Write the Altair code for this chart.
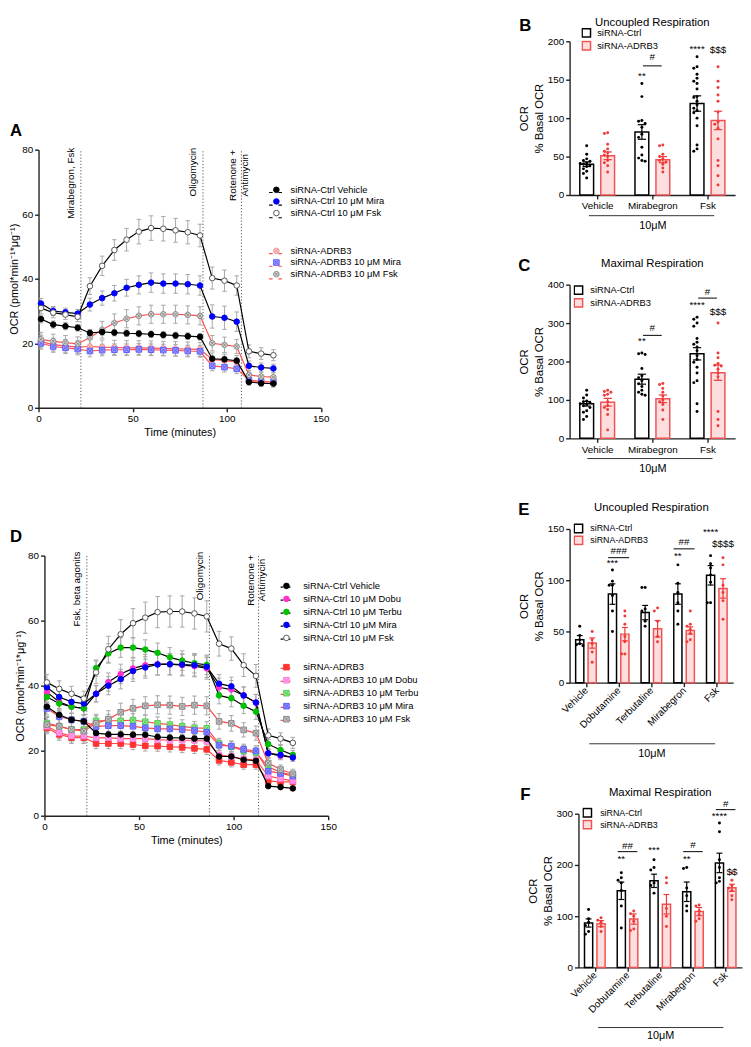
import altair as alt
import pandas as pd

FONT = "Liberation Sans"
GREY = "#a8a8a8"
SQX = "M-1,-1H1V1H-1Z M-0.75,-0.75L0.75,0.75 M0.75,-0.75L-0.75,0.75"
CIRX = "M-1,0A1,1 0 1,1 1,0A1,1 0 1,1 -1,0Z M-0.7,-0.7L0.7,0.7 M0.7,-0.7L-0.7,0.7"

# ---------------- Panel A ----------------
A_time = [1.3, 7.8, 14.3, 20.8, 27.3, 33.8, 40.3, 46.8, 53.3, 59.8,
          66.3, 72.8, 79.3, 85.8, 92.3, 98.8, 105.3, 111.8, 118.3, 124.8]
A_names = ["siRNA-Ctrl Vehicle", "siRNA-Ctrl 10 μM Mira", "siRNA-Ctrl 10 μM Fsk",
           "siRNA-ADRB3", "siRNA-ADRB3 10 μM Mira", "siRNA-ADRB3 10 μM Fsk"]
A_groups = ["siRNA-Ctrl", "siRNA-Ctrl", "siRNA-Ctrl", "siRNA-ADRB3", "siRNA-ADRB3", "siRNA-ADRB3"]
A_ctrl_vehicle = [27.5, 25.8, 25.3, 24.8, 23.2, 23.5, 23.3, 23.1, 23.0, 22.8, 22.6, 22.4, 22.2, 22.0, 15.2, 15.0, 14.6, 8.0, 7.6, 7.5]
A_ctrl_mira = [32.3, 30.0, 29.6, 29.2, 32.0, 34.0, 35.5, 37.2, 38.1, 38.8, 38.5, 38.5, 38.3, 37.9, 28.3, 27.9, 26.7, 13.0, 12.5, 12.2]
A_ctrl_fsk = [30.9, 29.5, 28.9, 28.2, 37.7, 44.0, 48.9, 52.1, 54.6, 55.7, 55.5, 55.0, 54.4, 53.4, 40.2, 39.4, 37.9, 17.5, 16.8, 16.3]
A_adrb3_vehicle = [20.5, 19.6, 19.2, 18.8, 19.0, 18.8, 18.7, 18.6, 18.6, 18.5, 18.4, 18.3, 18.2, 18.1, 15.0, 14.6, 14.2, 8.2, 7.8, 7.6]
A_adrb3_mira = [20.0, 19.0, 18.6, 18.2, 17.6, 17.9, 18.0, 18.0, 18.1, 18.0, 17.9, 17.8, 17.6, 17.5, 13.0, 12.6, 12.1, 8.6, 8.2, 8.0]
A_adrb3_fsk = [21.2, 20.6, 20.2, 19.8, 21.8, 24.2, 26.3, 27.6, 28.5, 29.0, 29.0, 29.0, 28.8, 28.5, 20.0, 19.5, 19.0, 10.2, 9.7, 9.5]
A_sem_ctrl_vehicle = [1.2, 1.1, 1.1, 1.0, 1.0, 1.0, 1.0, 1.0, 1.0, 1.0, 1.0, 1.0, 1.0, 1.0, 0.9, 0.9, 0.9, 0.6, 0.6, 0.6]
A_sem_ctrl_mira = [1.6, 1.4, 1.3, 1.3, 2.0, 2.2, 2.4, 2.6, 2.8, 3.0, 3.0, 3.0, 3.0, 3.0, 3.6, 3.6, 3.0, 1.5, 1.4, 1.3]
A_sem_ctrl_fsk = [1.8, 1.6, 1.5, 1.5, 2.6, 3.0, 3.2, 3.5, 3.8, 3.8, 3.8, 3.7, 3.6, 3.5, 3.4, 3.3, 3.0, 2.0, 1.8, 1.7]
A_sem_adrb3_vehicle = [2.0, 2.0, 2.0, 2.0, 2.2, 2.2, 2.2, 2.2, 2.2, 2.2, 2.2, 2.2, 2.2, 2.2, 2.0, 2.0, 2.0, 1.2, 1.2, 1.2]
A_sem_adrb3_mira = [1.8, 1.8, 1.8, 1.8, 1.8, 1.8, 1.8, 1.8, 1.8, 1.8, 1.8, 1.8, 1.8, 1.8, 1.5, 1.5, 1.5, 1.0, 1.0, 1.0]
A_sem_adrb3_fsk = [2.2, 2.2, 2.2, 2.2, 2.4, 2.6, 2.8, 2.8, 2.8, 2.8, 2.8, 2.8, 2.8, 2.8, 2.4, 2.4, 2.2, 1.4, 1.4, 1.4]
A_inj_time = [22.5, 87.4, 107.8]
A_inj_label = ["Mirabegron, Fsk", "Oligomycin", "Rotenone +\nAntimycin"]

# ---------------- Panel D ----------------
D_time = [1.3, 7.8, 14.3, 20.8, 27.3, 33.8, 40.3, 46.8, 53.3, 59.8, 66.3,
          72.8, 79.3, 85.8, 92.3, 98.8, 105.3, 111.8, 118.3, 124.8, 131.3]
D_names = ["siRNA-Ctrl Vehicle", "siRNA-Ctrl 10 μM Dobu", "siRNA-Ctrl 10 μM Terbu",
           "siRNA-Ctrl 10 μM Mira", "siRNA-Ctrl 10 μM Fsk",
           "siRNA-ADRB3", "siRNA-ADRB3 10 μM Dobu", "siRNA-ADRB3 10 μM Terbu",
           "siRNA-ADRB3 10 μM Mira", "siRNA-ADRB3 10 μM Fsk"]
D_groups = ["siRNA-Ctrl"] * 5 + ["siRNA-ADRB3"] * 5
D_ctrl_vehicle = [33.5, 31.0, 29.5, 29.0, 25.4, 25.0, 25.0, 24.9, 24.9, 24.2, 24.0, 23.9, 23.7, 23.7, 18.2, 18.2, 17.2, 16.9, 9.1, 8.8, 8.4]
D_ctrl_dobu = [38.0, 35.0, 33.5, 33.0, 37.5, 41.1, 43.6, 45.3, 46.3, 46.6, 46.6, 46.3, 46.0, 45.3, 39.5, 38.8, 37.0, 34.8, 19.2, 18.4, 18.0]
D_ctrl_terbu = [36.5, 34.5, 33.5, 33.0, 45.4, 49.9, 51.7, 51.7, 51.1, 50.1, 48.7, 47.7, 46.9, 46.4, 37.0, 36.1, 33.8, 32.0, 22.0, 20.2, 18.7]
D_ctrl_mira = [39.5, 36.5, 35.0, 34.5, 37.5, 40.0, 42.0, 44.5, 45.6, 46.5, 46.6, 46.5, 46.3, 45.8, 40.6, 39.8, 37.0, 34.8, 19.2, 18.7, 17.9]
D_ctrl_fsk = [41.0, 39.0, 37.5, 36.0, 44.1, 51.2, 55.8, 59.2, 60.9, 62.6, 62.8, 62.8, 62.2, 61.3, 52.9, 51.4, 46.3, 43.0, 24.7, 23.7, 22.4]
D_adrb3_vehicle = [27.0, 25.0, 24.0, 24.0, 22.2, 22.2, 22.2, 21.9, 21.5, 21.4, 21.2, 21.0, 20.7, 20.4, 17.0, 16.4, 15.7, 15.7, 10.7, 10.4, 10.4]
D_adrb3_dobu = [27.5, 25.5, 24.5, 24.5, 23.9, 24.0, 23.7, 23.7, 23.7, 23.4, 23.2, 23.2, 23.2, 22.9, 18.7, 18.2, 17.4, 17.2, 12.2, 11.4, 10.7]
D_adrb3_terbu = [28.5, 27.5, 26.5, 26.5, 29.2, 29.2, 29.2, 29.4, 28.9, 28.4, 28.0, 27.5, 27.0, 26.9, 22.2, 21.2, 20.0, 19.4, 15.0, 13.4, 12.4]
D_adrb3_mira = [33.0, 30.5, 29.5, 29.0, 27.4, 27.7, 27.7, 27.5, 27.0, 26.7, 26.7, 26.5, 26.2, 25.7, 21.7, 21.4, 20.4, 19.9, 13.7, 13.0, 12.2]
D_adrb3_fsk = [28.0, 27.5, 26.5, 26.0, 28.4, 29.7, 31.8, 33.0, 33.8, 34.1, 34.0, 33.6, 34.0, 33.8, 29.0, 28.4, 26.4, 25.4, 16.2, 14.2, 12.9]
D_sem_ctrl_vehicle = [1.2, 1.1, 1.0, 1.0, 1.0, 1.0, 1.0, 1.0, 1.0, 1.0, 1.0, 1.0, 1.0, 1.0, 0.9, 0.9, 0.9, 0.9, 0.5, 0.5, 0.5]
D_sem_ctrl_dobu = [2.0, 2.0, 2.0, 2.0, 2.5, 2.8, 3.0, 3.2, 3.3, 3.3, 3.3, 3.3, 3.3, 3.3, 2.8, 2.8, 2.6, 2.5, 1.2, 1.2, 1.2]
D_sem_ctrl_terbu = [2.0, 2.0, 2.0, 2.0, 2.5, 3.0, 3.0, 3.0, 3.0, 3.0, 3.0, 3.0, 3.0, 3.0, 2.6, 2.6, 2.4, 2.4, 1.4, 1.4, 1.4]
D_sem_ctrl_mira = [2.0, 2.0, 2.0, 2.0, 2.5, 2.8, 3.0, 3.2, 3.3, 3.3, 3.3, 3.3, 3.3, 3.3, 2.8, 2.8, 2.6, 2.5, 1.2, 1.2, 1.2]
D_sem_ctrl_fsk = [2.5, 2.5, 2.3, 2.3, 3.5, 4.0, 4.5, 4.5, 4.8, 4.8, 4.8, 4.8, 4.8, 4.8, 3.8, 3.6, 3.5, 3.5, 2.0, 1.8, 1.7]
D_sem_adrb3_vehicle = [1.8, 1.8, 1.8, 1.8, 1.6, 1.6, 1.6, 1.6, 1.6, 1.6, 1.6, 1.6, 1.6, 1.6, 1.4, 1.4, 1.4, 1.4, 0.9, 0.9, 0.9]
D_sem_adrb3_dobu = [1.8, 1.8, 1.8, 1.8, 1.6, 1.6, 1.6, 1.6, 1.6, 1.6, 1.6, 1.6, 1.6, 1.6, 1.4, 1.4, 1.4, 1.4, 0.9, 0.9, 0.9]
D_sem_adrb3_terbu = [2.0, 2.0, 2.0, 2.0, 2.0, 2.0, 2.0, 2.0, 2.0, 2.0, 2.0, 2.0, 2.0, 2.0, 1.6, 1.6, 1.6, 1.6, 1.0, 1.0, 1.0]
D_sem_adrb3_mira = [2.0, 2.0, 2.0, 2.0, 2.0, 2.0, 2.0, 2.0, 2.0, 2.0, 2.0, 2.0, 2.0, 2.0, 1.6, 1.6, 1.6, 1.6, 1.0, 1.0, 1.0]
D_sem_adrb3_fsk = [2.2, 2.2, 2.2, 2.2, 2.4, 2.6, 2.8, 2.8, 2.8, 2.8, 2.8, 2.8, 2.8, 2.8, 2.4, 2.4, 2.2, 2.2, 1.4, 1.4, 1.4]
D_inj_time = [22.4, 87.2, 113.2]
D_inj_label = ["Fsk, beta agonits", "Oligomycin", "Rotenone +\nAntimycin"]

TRACE_X_DOMAIN = [0, 150]
TRACE_X_TICKS = [0, 50, 100, 150]
TRACE_Y_DOMAIN = [0, 80]
TRACE_Y_TICKS = [0, 20, 40, 60, 80]

# ---------------- Bar panels ----------------
GROUPS = ["siRNA-Ctrl", "siRNA-ADRB3"]

B_cats = ["Vehicle", "Mirabegron", "Fsk"]
B_ctrl_mean = [40, 82, 119]
B_ctrl_sem = [3, 9.5, 10]
B_adrb3_mean = [51, 46, 97]
B_adrb3_sem = [5, 4, 12]
B_ctrl_dots = [[64, 53, 47, 45, 44, 42, 41, 40, 38, 37, 34, 31, 28, 22],
               [145, 128, 97, 96, 93, 88, 79, 75, 62, 52, 48, 45, 44],
               [180, 167, 165, 157, 152, 148, 145, 138, 128, 127, 122, 117, 113, 110, 107, 100, 90, 65, 60, 57]]
B_adrb3_dots = [[81, 80, 66, 60, 57, 55, 52, 50, 45, 42, 38, 30],
                [65, 64, 53, 50, 47, 45, 43, 40, 35, 30],
                [167, 148, 140, 130, 122, 108, 95, 92, 87, 73, 45, 38, 25, 13]]
B_sig_cat = [1, 1, 2, 2]
B_sig_pos = ["c", "m", "c", "r"]
B_sig_y = [155, 179, 190, 189]
B_sig_text = ["**", "#", "****", "$$$"]
B_bar_cat = [1]
B_bar_y = [168]

C_cats = ["Vehicle", "Mirabegron", "Fsk"]
C_ctrl_mean = [90, 154, 220]
C_ctrl_sem = [6, 13, 16]
C_adrb3_mean = [94, 103, 171]
C_adrb3_sem = [10, 10, 20]
C_ctrl_dots = [[125, 113, 105, 97, 95, 93, 90, 88, 85, 80, 72, 68, 57, 49],
               [222, 220, 218, 182, 163, 158, 150, 142, 135, 125, 120, 115, 112],
               [315, 310, 300, 292, 260, 250, 245, 238, 228, 215, 205, 198, 185, 170, 150, 145, 90, 70]]
C_adrb3_dots = [[125, 122, 120, 115, 112, 95, 85, 80, 75, 62, 22],
                [143, 140, 130, 120, 110, 100, 95, 88, 74, 49],
                [300, 222, 210, 195, 190, 188, 180, 170, 160, 70, 49, 33]]
C_sig_cat = [1, 1, 2, 2, 2]
C_sig_pos = ["c", "m", "c", "m", "r"]
C_sig_y = [252, 287, 346, 382, 329]
C_sig_text = ["**", "#", "****", "#", "$$$"]
C_bar_cat = [1, 2]
C_bar_y = [268, 365]

E_cats = ["Vehicle", "Dobutamine", "Terbutaline", "Mirabegron", "Fsk"]
E_ctrl_mean = [42, 86.5, 68.4, 86.5, 104.8]
E_ctrl_sem = [4, 10, 7, 10, 9.5]
E_adrb3_mean = [38.7, 47.4, 52.6, 51, 92]
E_adrb3_sem = [5, 6.5, 8, 3.5, 9.5]
E_ctrl_dots = [[55, 46, 42, 38, 37, 36], [110, 99, 95, 95, 85, 70, 50], [93, 93, 72, 70, 60, 55],
               [115, 97, 88, 78, 70, 57], [124, 116, 112, 105, 98, 78, 78]]
E_adrb3_dots = [[50, 42, 38, 30, 20], [70, 65, 57, 45, 40, 28, 28], [73, 70, 60, 45, 40],
                [70, 57, 55, 52, 48, 42, 40], [122, 115, 95, 88, 80, 62]]
E_sig_cat = [1, 1, 3, 3, 4, 4]
E_sig_pos = ["c", "m", "c", "m", "c", "r"]
E_sig_y = [117, 128, 124, 137.7, 146.8, 135.5]
E_sig_text = ["***", "###", "**", "##", "****", "$$$$"]
E_bar_cat = [1, 3]
E_bar_y = [122, 130.6]

F_cats = ["Vehicle", "Dobutamine", "Terbutaline", "Mirabegron", "Fsk"]
F_ctrl_mean = [86.7, 149.6, 169, 147.7, 204]
F_ctrl_sem = [8, 17, 13, 19, 19]
F_adrb3_mean = [85.4, 94.4, 123.3, 109, 155.4]
F_adrb3_sem = [6, 10, 19, 8, 7]
F_ctrl_dots = [[113, 95, 88, 82, 70, 65], [185, 175, 170, 165, 150, 120, 77], [210, 195, 190, 165, 160, 145],
               [195, 193, 155, 140, 120, 110], [282, 265, 210, 195, 175, 168, 165]]
F_adrb3_dots = [[97, 92, 88, 80, 70], [110, 105, 100, 90, 75, 72], [175, 165, 115, 100, 80],
                [122, 120, 110, 103, 95, 90], [185, 170, 160, 155, 150, 140, 132]]
F_sig_cat = [1, 1, 2, 3, 3, 4, 4, 4]
F_sig_pos = ["c", "m", "c", "c", "m", "c", "m", "r"]
F_sig_y = [210.6, 237.6, 229, 210.6, 239.6, 295.5, 319, 186]
F_sig_text = ["**", "##", "***", "**", "#", "****", "#", "$$"]
F_bar_cat = [1, 3, 4]
F_bar_y = [226, 226, 308]


def letter_layer(letter, x, y):
    return alt.Chart(pd.DataFrame({"t": [letter]})).mark_text(
        fontSize=17, fontWeight="bold", align="left", baseline="middle", font=FONT, color="black"
    ).encode(x=alt.value(x), y=alt.value(y), text="t:N")


def line_panel(times, names, groups, values, sems, shapes, fills, strokes, linecols,
               inj_t, inj_lab, W, xr, H, top, spec_h, yoff, legs, letter, lx, ly, top_y, rot_y):
    rows = []
    for nm, g, vals, ss in zip(names, groups, values, sems):
        for t, v, s in zip(times, vals, ss):
            rows.append({"series": nm, "grp": g, "t": t, "v": v, "lo": v - s, "hi": v + s,
                         "c1": t - 1.2, "c2": t + 1.2})
    df = pd.DataFrame(rows)
    xs = alt.Scale(domain=TRACE_X_DOMAIN, range=xr, nice=False, zero=False)
    ys = alt.Scale(domain=TRACE_Y_DOMAIN, range=[top + H, top], nice=False, zero=False)
    xaxis = alt.Axis(values=TRACE_X_TICKS, title="Time (minutes)", labelFlush=False, titlePadding=3,
                     offset=top + H - spec_h)
    yaxis = alt.Axis(values=TRACE_Y_TICKS, title="OCR (pmol*min⁻¹*μg⁻¹)", offset=yoff,
                     labelFlush=False, titlePadding=2)
    X = lambda f: alt.X(f, scale=xs, axis=xaxis)
    Y = lambda f: alt.Y(f, scale=ys, axis=yaxis)
    inj = pd.DataFrame({"t": inj_t, "label": inj_lab,
                        "ylo": [TRACE_Y_DOMAIN[0]] * len(inj_t), "yhi": [TRACE_Y_DOMAIN[1]] * len(inj_t)})
    vlines = alt.Chart(inj).mark_rule(color="#555555", strokeWidth=1, strokeDash=[1.2, 2]).encode(
        x=X("t:Q"), y=Y("ylo:Q"), y2="yhi:Q")
    lab_top = alt.Chart(inj.iloc[:2]).mark_text(
        angle=270, align="right", baseline="bottom", dy=-5, fontSize=10, font=FONT, color="black"
    ).encode(x=X("t:Q"), y=alt.value(top + top_y), text="label:N")
    lab_rot = alt.Chart(inj.iloc[2:]).mark_text(
        angle=270, align="center", baseline="bottom", dy=-3, fontSize=10, font=FONT, color="black",
        lineBreak="\n", lineHeight=12
    ).encode(x=X("t:Q"), y=alt.value(top + rot_y), text="label:N")
    base = alt.Chart(df)
    err = base.mark_rule(color=GREY, strokeWidth=1).encode(x=X("t:Q"), y=Y("lo:Q"), y2="hi:Q")
    cap_hi = base.mark_rule(color=GREY, strokeWidth=1).encode(x=X("c1:Q"), x2="c2:Q", y=Y("hi:Q"))
    cap_lo = base.mark_rule(color=GREY, strokeWidth=1).encode(x=X("c1:Q"), x2="c2:Q", y=Y("lo:Q"))
    layers = [vlines, lab_top, lab_rot, err, cap_hi, cap_lo]
    for g in ["siRNA-ADRB3", "siRNA-Ctrl"]:
        idx = [i for i, gg in enumerate(groups) if gg == g]
        dom = [names[i] for i in idx]
        L = legs[g]
        sub = df[df.grp == g]
        line_leg = alt.Legend(orient="none", legendX=L["cx"] - L["lw"] / 2, legendY=top + L["y"], title=None,
                              symbolType="M-1,0H-0.45M0.45,0H1", symbolSize=L["lw"] ** 2,
                              symbolStrokeWidth=1.2, labelExpr="' '", labelFontSize=9.5,
                              rowPadding=L["rp"], padding=0, labelLimit=300, labelFont=FONT)
        line = alt.Chart(sub).mark_line(strokeWidth=1.2).encode(
            x=X("t:Q"), y=Y("v:Q"),
            stroke=alt.Stroke("series:N", scale=alt.Scale(domain=dom, range=[linecols[i] for i in idx]),
                              legend=line_leg))
        leg = alt.Legend(orient="none", legendX=L["cx"] - 2.85, legendY=top + L["y"], title=None,
                         symbolSize=32, symbolStrokeWidth=1, labelFontSize=9.5, rowPadding=L["rp"],
                         padding=0, labelOffset=L["loff"], labelLimit=300, labelFont=FONT,
                         labelColor="black")
        pts = alt.Chart(sub).mark_point(size=32, opacity=1, strokeWidth=1).encode(
            x=X("t:Q"), y=Y("v:Q"),
            shape=alt.Shape("series:N", scale=alt.Scale(domain=dom, range=[shapes[i] for i in idx]), legend=leg),
            fill=alt.Fill("series:N", scale=alt.Scale(domain=dom, range=[fills[i] for i in idx]), legend=leg),
            stroke=alt.Stroke("series:N", scale=alt.Scale(domain=dom, range=[strokes[i] for i in idx]), legend=leg))
        layers += [line, pts]
    layers.append(letter_layer(letter, lx, top + ly))
    return alt.layer(*layers).resolve_scale(
        stroke="independent", fill="independent", shape="independent").properties(width=W, height=spec_h)


def swarm(vals, pxu, delta=3.2):
    placed, out = [], []
    order = [0, -1, 1, -2, 2, -3, 3, -4, 4]
    for v in vals:
        for s in order:
            if all(not (ps == s and abs(pv - v) * pxu < delta) for pv, ps in placed):
                break
        placed.append((v, s))
        out.append(s)
    return out


def bar_panel(cats, cmean, csem, amean, asem, cdots, adots, sig_c, sig_p, sig_y, sig_t, bar_c, bar_y,
              W, x0, H, ymax, ystep, angle, title, ty, letter, lx, ly, legx, legy, legrp, legoff, legfs,
              span, span_dy, t10_y, line_half, cap_half):
    n = len(cats)
    off = {"c": -0.19, "r": 0.19, "m": 0.0}
    goff = {GROUPS[0]: -0.19, GROUPS[1]: 0.19}
    bw = 0.125
    summ = []
    for g, means, sems in ((GROUPS[0], cmean, csem), (GROUPS[1], amean, asem)):
        for i, (m, s) in enumerate(zip(means, sems)):
            xc = i + goff[g]
            summ.append(dict(grp=g, xc=xc, x1=xc - bw, x2=xc + bw, mean=m, lo=m - s, hi=m + s,
                             c1=xc - cap_half, c2=xc + cap_half, zero=0))
    summ = pd.DataFrame(summ)
    pxu = H / ymax
    band = W / n
    dots = []
    for g, lists in ((GROUPS[0], cdots), (GROUPS[1], adots)):
        for i, vals in enumerate(lists):
            for v, j in zip(vals, swarm(vals, pxu)):
                dots.append(dict(grp=g, xd=i + goff[g] + j * 3.3 / band, v=v))
    dots = pd.DataFrame(dots)
    sig = pd.DataFrame({"xs": [c + off[p] for c, p in zip(sig_c, sig_p)], "y": sig_y, "text": sig_t})
    bars_df = pd.DataFrame({"l1": [c - line_half for c in bar_c], "l2": [c + line_half for c in bar_c], "y": bar_y})
    span_df = pd.DataFrame({"a": [span[0]], "b": [span[1]]})

    xs = alt.Scale(domain=[-0.5, n - 0.5], range=[x0, x0 + W], nice=False, zero=False)
    ys = alt.Scale(domain=[0, ymax], nice=False, zero=False)
    label_expr = "[" + ",".join("'%s'" % c for c in cats) + "][datum.value]"
    xa = dict(values=list(range(n)), labelExpr=label_expr, labelAngle=angle, labelOverlap=False,
              labelFlush=False, title="10μM", titleY=t10_y, titleBaseline="middle", labelFontSize=10)
    if angle != 0:
        xa.update(labelAlign="right", labelBaseline="middle")
    xaxis = alt.Axis(**xa)
    yaxis = alt.Axis(values=list(range(0, ymax + 1, ystep)), title=["OCR", "% Basal OCR"], offset=-x0,
                     titleLineHeight=15, titlePadding=3, titleFontSize=11.5, labelFlush=False)
    X = lambda f: alt.X(f, scale=xs, axis=xaxis)
    Y = lambda f: alt.Y(f, scale=ys, axis=yaxis)
    leg = alt.Legend(orient="none", legendX=x0 + legx, legendY=legy, title=None, symbolType="square",
                     symbolSize=72, symbolStrokeWidth=1.5, labelFontSize=legfs, rowPadding=legrp,
                     clipHeight=11, padding=0, labelOffset=legoff, labelFont=FONT, labelColor="black",
                     labelLimit=300)
    bars = alt.Chart(summ).mark_bar(strokeWidth=1.5).encode(
        x=X("x1:Q"), x2="x2:Q", y=Y("mean:Q"), y2="zero:Q",
        fill=alt.Fill("grp:N", scale=alt.Scale(domain=GROUPS, range=["white", "#fddede"]), legend=leg),
        stroke=alt.Stroke("grp:N", scale=alt.Scale(domain=GROUPS, range=["black", "#f05252"]), legend=leg))
    colscale = alt.Scale(domain=GROUPS, range=["black", "#f03a3a"])
    err = alt.Chart(summ).mark_rule(strokeWidth=1.2).encode(
        x=X("xc:Q"), y=Y("lo:Q"), y2="hi:Q", color=alt.Color("grp:N", scale=colscale, legend=None))
    cap_hi = alt.Chart(summ).mark_rule(strokeWidth=1.2).encode(
        x=X("c1:Q"), x2="c2:Q", y=Y("hi:Q"), color=alt.Color("grp:N", scale=colscale, legend=None))
    cap_lo = alt.Chart(summ).mark_rule(strokeWidth=1.2).encode(
        x=X("c1:Q"), x2="c2:Q", y=Y("lo:Q"), color=alt.Color("grp:N", scale=colscale, legend=None))
    pts = alt.Chart(dots).mark_circle(size=9, opacity=1).encode(
        x=X("xd:Q"), y=Y("v:Q"), color=alt.Color("grp:N", scale=colscale, legend=None))
    sig_text = alt.Chart(sig).mark_text(fontSize=10, font=FONT, baseline="middle", color="black").encode(
        x=X("xs:Q"), y=Y("y:Q"), text="text:N")
    sig_bar = alt.Chart(bars_df).mark_rule(strokeWidth=1, color="black").encode(
        x=X("l1:Q"), x2="l2:Q", y=Y("y:Q"))
    span_rule = alt.Chart(span_df).mark_rule(strokeWidth=1, color="#333333").encode(
        x=X("a:Q"), x2="b:Q", y=alt.value(H + span_dy))
    ttl = alt.Chart(pd.DataFrame({"t": [title]})).mark_text(
        fontSize=11.5, font=FONT, baseline="middle", color="black").encode(
        x=alt.value(x0 + W / 2), y=alt.value(ty), text="t:N")
    return alt.layer(bars, err, cap_hi, cap_lo, pts, sig_bar, sig_text, span_rule, ttl,
                     letter_layer(letter, x0 + lx, ly)).resolve_scale(
        fill="independent", stroke="independent").properties(width=x0 + W, height=H)


# layout (px): row heights of the 2-column grid and panel offsets inside their cells
ROW1_H, ROW2_H, ROW3_H = 246.5, 248, 289
A_TOP, D_TOP = 110, 27

A = line_panel(
    A_time, A_names, A_groups,
    [A_ctrl_vehicle, A_ctrl_mira, A_ctrl_fsk, A_adrb3_vehicle, A_adrb3_mira, A_adrb3_fsk],
    [A_sem_ctrl_vehicle, A_sem_ctrl_mira, A_sem_ctrl_fsk, A_sem_adrb3_vehicle, A_sem_adrb3_mira, A_sem_adrb3_fsk],
    ["circle", "circle", "circle", CIRX, SQX, CIRX],
    ["black", "#0000ff", "white", "#fbcfcf", "#9a9aff", "#d4d4d4"],
    ["black", "#0000ff", "#555555", "#f08a8a", "#6060ff", "#888888"],
    ["black", "black", "black", "#ff5050", "#ff5050", "#ff5050"],
    A_inj_time, A_inj_label, 294, [0, 286.5], 262, A_TOP, ROW1_H, 0,
    {"siRNA-Ctrl": {"cx": 239.5, "y": 36, "rp": 0.8, "lw": 13, "loff": 9.7},
     "siRNA-ADRB3": {"cx": 239.5, "y": 98, "rp": 0.8, "lw": 13, "loff": 9.7}},
    "A", -29, -19, -2, 26)

D = line_panel(
    D_time, D_names, D_groups,
    [D_ctrl_vehicle, D_ctrl_dobu, D_ctrl_terbu, D_ctrl_mira, D_ctrl_fsk,
     D_adrb3_vehicle, D_adrb3_dobu, D_adrb3_terbu, D_adrb3_mira, D_adrb3_fsk],
    [D_sem_ctrl_vehicle, D_sem_ctrl_dobu, D_sem_ctrl_terbu, D_sem_ctrl_mira, D_sem_ctrl_fsk,
     D_sem_adrb3_vehicle, D_sem_adrb3_dobu, D_sem_adrb3_terbu, D_sem_adrb3_mira, D_sem_adrb3_fsk],
    ["circle"] * 5 + ["square", SQX, SQX, SQX, SQX],
    ["black", "#ff33cc", "#00c000", "#0000ff", "white", "#ff3333", "#ffaaf0", "#8ce88c", "#8c8cff", "#c8c8c8"],
    ["black", "#ff33cc", "#00c000", "#0000ff", "#555555", "#ff3333", "#ff77dd", "#55cc55", "#5c5cff", "#888888"],
    ["black"] * 5 + ["#ff4848"] * 5,
    D_inj_time, D_inj_label, 294, [6, 294], 264, D_TOP, ROW3_H, -6,
    {"siRNA-Ctrl": {"cx": 249.7, "y": 26, "rp": 2.2, "lw": 10, "loff": 12.2},
     "siRNA-ADRB3": {"cx": 249.7, "y": 108.5, "rp": 2.2, "lw": 10, "loff": 12.2}},
    "D", -29, -19, -4, 25)

B = bar_panel(B_cats, B_ctrl_mean, B_ctrl_sem, B_adrb3_mean, B_adrb3_sem, B_ctrl_dots, B_adrb3_dots,
              B_sig_cat, B_sig_pos, B_sig_y, B_sig_text, B_bar_cat, B_bar_y,
              168, 0, 156, 200, 50, 0, "Uncoupled Respiration", -19, "B", -51, -15.5,
              12, -14, 2, 6, 9.5, (-0.15, 2.12), 21, 31, 0.17, 0.075)
C = bar_panel(C_cats, C_ctrl_mean, C_ctrl_sem, C_adrb3_mean, C_adrb3_sem, C_ctrl_dots, C_adrb3_dots,
              C_sig_cat, C_sig_pos, C_sig_y, C_sig_text, C_bar_cat, C_bar_y,
              168, 0, 156, 400, 100, 0, "Maximal Respiration", -20.5, "C", -52, -18.5,
              4, 0, 2, 7, 9.5, (-0.18, 2.09), 20.5, 30.5, 0.17, 0.075)
E = bar_panel(E_cats, E_ctrl_mean, E_ctrl_sem, E_adrb3_mean, E_adrb3_sem, E_ctrl_dots, E_adrb3_dots,
              E_sig_cat, E_sig_pos, E_sig_y, E_sig_text, E_bar_cat, E_bar_y,
              166, 0, 156, 150, 50, -45, "Uncoupled Respiration", -21, "E", -52, -19,
              4, -6, 1, 7, 9, (0.1, 3.95), 62, 72, 0.32, 0.09)
F = bar_panel(F_cats, F_ctrl_mean, F_ctrl_sem, F_adrb3_mean, F_adrb3_sem, F_ctrl_dots, F_adrb3_dots,
              F_sig_cat, F_sig_pos, F_sig_y, F_sig_text, F_bar_cat, F_bar_y,
              166, 9, 156, 300, 100, -45, "Maximal Respiration", -21, "F", -59, -19,
              4, -6.5, 1, 8, 9, (0.1, 3.93), 61, 69, 0.3, 0.09)


def spacer(w, h):
    return alt.Chart(pd.DataFrame({"s": [0]})).mark_point(size=0, opacity=0).encode(
        x=alt.value(0), y=alt.value(0)).properties(width=w, height=h)


chart = alt.concat(A, B, spacer(294, ROW2_H), C, D, E, spacer(294, 1), F,
                   columns=2, spacing={"row": 0, "column": 245}, bounds="flush",
                   align="each", padding=0).configure(font=FONT).configure_view(
    stroke="transparent").configure_axis(
    grid=False, domainColor="#222222", domainWidth=1.4, tickColor="#222222", tickWidth=1.4, tickSize=4,
    labelFontSize=10, labelColor="black", titleFontSize=11, titleFontWeight="normal", titleColor="black",
    labelFont=FONT, titleFont=FONT)

chart.save("out.html", embed_options={"renderer": "svg", "actions": False})
